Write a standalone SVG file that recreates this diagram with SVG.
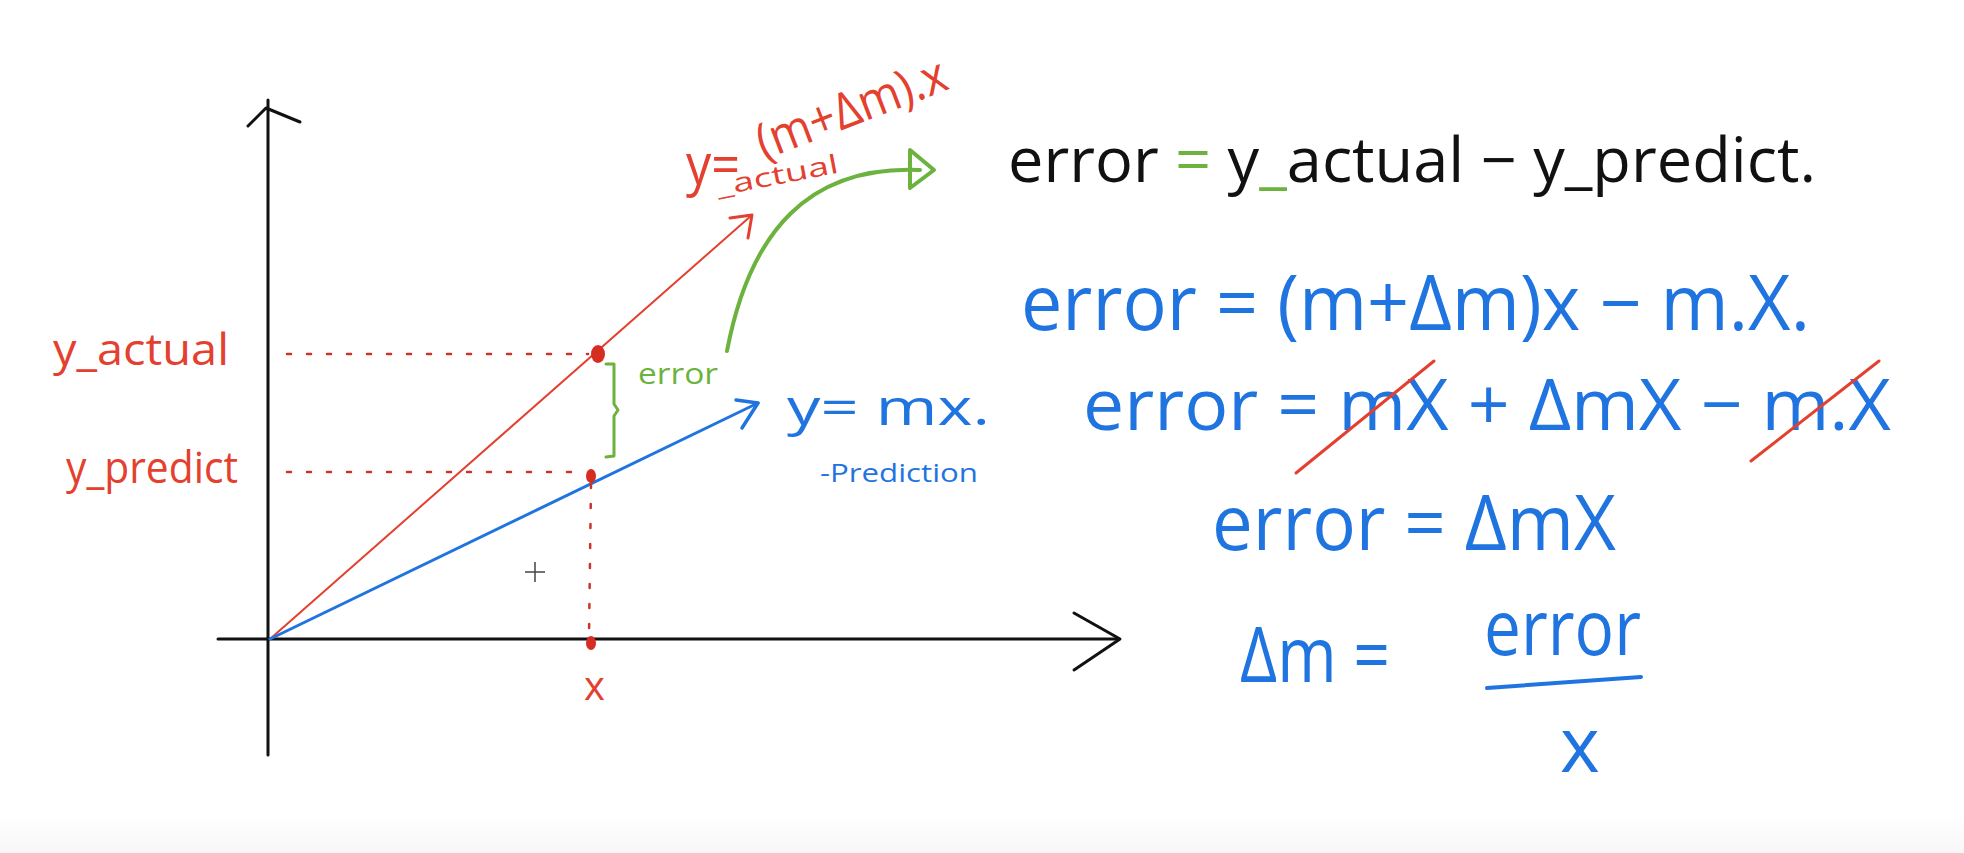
<svg xmlns="http://www.w3.org/2000/svg" width="1964" height="853" viewBox="0 0 1964 853">
<defs>
<linearGradient id="bottomfade" x1="0" y1="0" x2="0" y2="1">
<stop offset="0" stop-color="#ffffff"/>
<stop offset="1" stop-color="#f7f7f7"/>
</linearGradient>
</defs>
<style>
.ax{stroke:#111;stroke-width:3;fill:none;stroke-linecap:round;stroke-linejoin:round}
.red{stroke:#e4402f;fill:none;stroke-linecap:round;stroke-linejoin:round}
.blue{stroke:#1f74e0;fill:none;stroke-linecap:round;stroke-linejoin:round}
.green{stroke:#6cb23e;fill:none;stroke-linecap:round;stroke-linejoin:round}
.dot{stroke:#c8352a;stroke-width:2.5;stroke-dasharray:4 16;fill:none;stroke-linecap:round}
text{font-family:"Open Sans","Liberation Sans",sans-serif}
.tr{fill:#e4402f}
.tb{fill:#1f74e0}
.tg{fill:#6cb23e}
.tk{fill:#111}
</style>
<rect width="1964" height="853" fill="#ffffff"/>
<rect y="815" width="1964" height="38" fill="url(#bottomfade)"/>
<g id="axes">
<line class="ax" x1="268" y1="100" x2="268" y2="755"/>
<polyline class="ax" stroke-width="4" points="248,126 266,108 300,122"/>
<line class="ax" stroke="#333" x1="218" y1="639" x2="1118" y2="639"/>
<polyline class="ax" stroke-width="4" points="1074,613 1120,639 1074,670"/>
</g>
<g id="connectors">
<g id="line-actual">
<line class="red" stroke-width="2" x1="270" y1="639" x2="752" y2="215"/>
<polyline class="red" stroke-width="3" points="730,218 752,215 748,238"/>
</g>
<g id="line-predict">
<line class="blue" stroke-width="3" x1="270" y1="639" x2="758" y2="403"/>
<polyline class="blue" stroke-width="3.5" points="736,400 758,403 742,428"/>
</g>
<g id="guides">
<line class="dot" x1="287" y1="354" x2="588" y2="354"/>
<line class="dot" x1="287" y1="472" x2="582" y2="472"/>
<line class="dot" x1="591" y1="484" x2="589" y2="636"/>
</g>
<g id="green-arrow">
<path class="green" stroke-width="4" d="M727,351 C750,230 810,165 920,170"/>
<path class="green" stroke-width="4" d="M910,150 L934,170 L910,188 Z"/>
</g>
<path id="bracket" class="green" stroke-width="3" d="M606,364 L614,364 L614,404 L618,410 L614,416 L614,456 L606,457"/>
</g>
<g id="points">
<ellipse cx="598" cy="354" rx="7" ry="9" fill="#d62d22"/>
<ellipse cx="591" cy="476" rx="5" ry="7" fill="#d62d22"/>
<ellipse cx="591" cy="643" rx="5" ry="7" fill="#d62d22"/>
</g>
<g id="cursor" stroke="#444" stroke-width="1.5">
<line x1="535" y1="562" x2="535" y2="582"/>
<line x1="525" y1="572" x2="545" y2="572"/>
</g>
<g id="labels-left">
<text class="tr" x="53" y="365" font-size="44" textLength="176" lengthAdjust="spacingAndGlyphs">y_actual</text>
<text class="tr" x="66" y="483" font-size="44" textLength="172" lengthAdjust="spacingAndGlyphs">y_predict</text>
<text class="tr" x="584" y="700" font-size="40">x</text>
<text class="tg" x="638" y="384" font-size="30" textLength="80" lengthAdjust="spacingAndGlyphs">error</text>
</g>
<g id="label-actual">
<text class="tr" x="686" y="184" font-size="56" textLength="54" lengthAdjust="spacingAndGlyphs">y=</text>
<text class="tr" x="718" y="196" font-size="26" transform="rotate(-11 718 196)" textLength="124" lengthAdjust="spacingAndGlyphs">_actual</text>
<text class="tr" x="764" y="160" font-size="50" transform="rotate(-21 764 160)" textLength="200" lengthAdjust="spacingAndGlyphs">(m+Δm).x</text>
</g>
<g id="label-predict">
<text class="tb" x="787" y="425" font-size="50" textLength="203" lengthAdjust="spacingAndGlyphs">y= mx.</text>
<text class="tb" x="820" y="482" font-size="26" textLength="158" lengthAdjust="spacingAndGlyphs">-Prediction</text>
</g>
<g id="eq1">
<text x="1008" y="182" font-size="62" textLength="808" lengthAdjust="spacingAndGlyphs"><tspan class="tk">error</tspan><tspan class="tg"> = </tspan><tspan class="tk">y</tspan><tspan class="tg">_</tspan><tspan class="tk">actual  −  y_predict.</tspan></text>
</g>
<g id="eq2">
<text class="tb" x="1021" y="330" font-size="76" textLength="789" lengthAdjust="spacingAndGlyphs">error = (m+Δm)x − m.X.</text>
</g>
<g id="eq3">
<text class="tb" x="1083" y="430" font-size="72" textLength="808" lengthAdjust="spacingAndGlyphs">error =  mX + ΔmX  − m.X</text>
<line class="red" stroke-width="3" x1="1296" y1="473" x2="1434" y2="361"/>
<line class="red" stroke-width="3" x1="1751" y1="461" x2="1879" y2="361"/>
</g>
<g id="eq4">
<text class="tb" x="1212" y="550" font-size="76" textLength="404" lengthAdjust="spacingAndGlyphs">error = ΔmX</text>
</g>
<g id="eq5">
<text class="tb" x="1240" y="682" font-size="76" textLength="150" lengthAdjust="spacingAndGlyphs">Δm =</text>
<text class="tb" x="1484" y="655" font-size="76" textLength="157" lengthAdjust="spacingAndGlyphs">error</text>
<line class="blue" stroke-width="4" x1="1487" y1="688" x2="1641" y2="677"/>
<text class="tb" x="1560" y="772" font-size="76">x</text>
</g>
</svg>
